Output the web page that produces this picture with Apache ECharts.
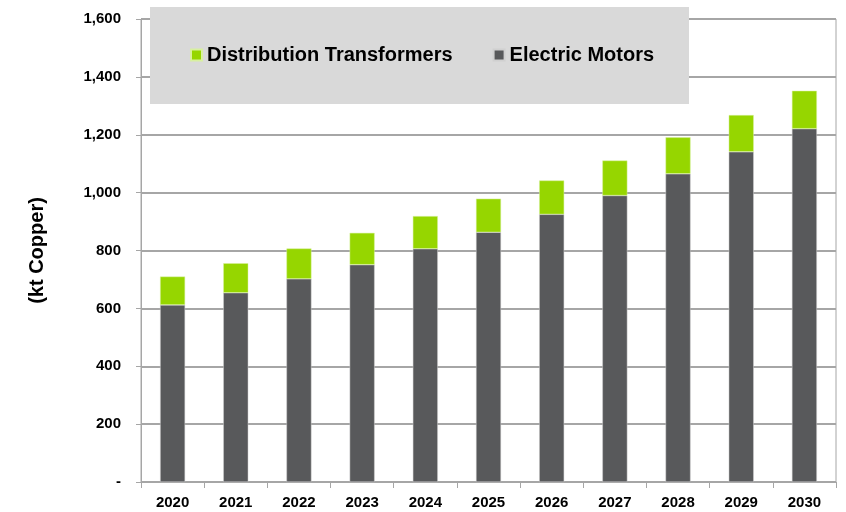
<!DOCTYPE html>
<html>
<head>
<meta charset="utf-8">
<script src="https://cdn.jsdelivr.net/npm/echarts@6/dist/echarts.min.js"></script>
<style>
  html, body { margin: 0; padding: 0; background: #fff; }
  #chart { width: 846px; height: 512px; }
</style>
</head>
<body>
<div id="chart"></div>
<script>
const years = ['2020', '2021', '2022', '2023', '2024', '2025', '2026', '2027', '2028', '2029', '2030']
const electricMotors = [612, 654, 702, 751, 806, 863, 925, 990, 1065, 1141, 1221]
const distributionTransformers = [98, 102, 105, 110, 113, 116, 117, 121, 126, 127, 131]

const green = '#96d600'
const dark = '#58595b'
const gridGray = '#a6a6a6'
const font = '"Liberation Sans", Arial, sans-serif'

const chart = echarts.init(document.getElementById('chart'))

chart.setOption({
  animation: false,
  textStyle: { fontFamily: font },
  grid: {
    left: 141,
    right: 10,
    top: 19,
    bottom: 30,
    show: true,
    borderColor: gridGray,
    borderWidth: 1
  },
  graphic: [{
    type: 'rect',
    left: 150,
    top: 7,
    z: 50,
    shape: { width: 539, height: 97 },
    style: { fill: '#d9d9d9' }
  }],
  legend: {
    left: 185,
    top: 40,
    z: 60,
    itemWidth: 11,
    itemHeight: 11,
    itemGap: 40,
    icon: 'rect',
    data: ['Distribution Transformers', 'Electric Motors'],
    textStyle: {
      fontFamily: font,
      fontSize: 20,
      fontWeight: 'bold',
      color: '#000'
    }
  },
  xAxis: {
    type: 'category',
    data: years,
    axisLine: { lineStyle: { color: gridGray, width: 1 } },
    axisTick: { show: true, length: 6, lineStyle: { color: gridGray } },
    axisLabel: {
      margin: 13,
      fontSize: 15,
      fontWeight: 'bold',
      color: '#000'
    }
  },
  yAxis: {
    type: 'value',
    min: 0,
    max: 1600,
    interval: 200,
    name: '(kt Copper)',
    nameLocation: 'middle',
    nameGap: 94,
    nameTextStyle: {
      fontFamily: font,
      fontSize: 20,
      fontWeight: 'bold',
      color: '#000'
    },
    axisLine: { show: true, lineStyle: { color: gridGray, width: 1 } },
    axisTick: { show: true, length: 5, lineStyle: { color: gridGray } },
    splitLine: { lineStyle: { color: gridGray, width: 2 } },
    axisLabel: {
      margin: 20,
      fontSize: 15,
      fontWeight: 'bold',
      color: '#000',
      formatter: v => v === 0 ? '-' : v.toLocaleString('en-US')
    }
  },
  series: [
    {
      name: 'Electric Motors',
      type: 'bar',
      stack: 'total',
      barWidth: 25,
      data: electricMotors,
      itemStyle: { color: dark, borderColor: '#d0d0d0', borderWidth: 0.5 }
    },
    {
      name: 'Distribution Transformers',
      type: 'bar',
      stack: 'total',
      barWidth: 25,
      data: distributionTransformers,
      itemStyle: { color: green, borderColor: '#d8f0a0', borderWidth: 0.5 }
    }
  ]
})
</script>
</body>
</html>
